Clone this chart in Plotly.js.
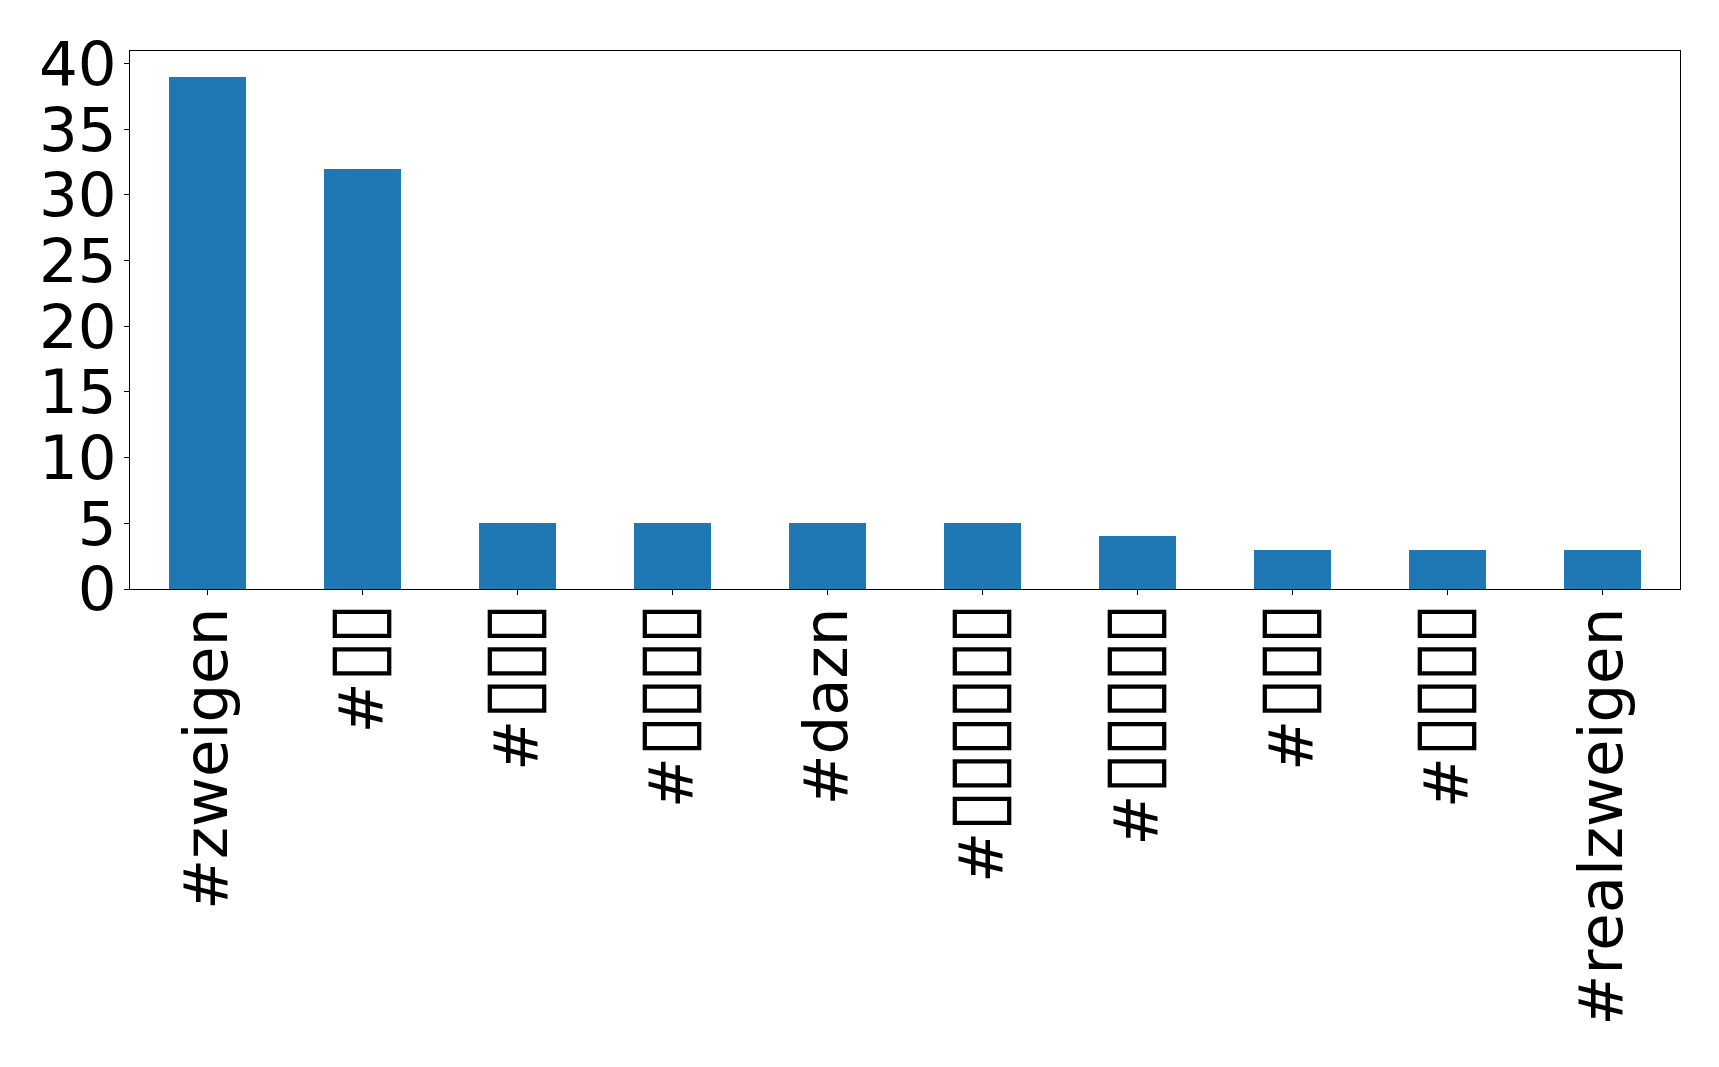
<!DOCTYPE html>
<html>
<head>
<meta charset="utf-8">
<script src="https://cdn.plot.ly/plotly-3.0.1.min.js"></script>
<style>
  html, body { margin: 0; padding: 0; background: #ffffff; }
  #chart { width: 1719px; height: 1067px; }
</style>
</head>
<body>
<div id="chart"></div>
<script>
// Hashtag counts; Japanese tags render as missing-glyph boxes in the source font
const hashtags = [
  "#zweigen",
  "#\u25AF\u25AF",
  "#\u25AF\u25AF\u25AF",
  "#\u25AF\u25AF\u25AF\u25AF",
  "#dazn",
  "#\u25AF\u25AF\u25AF\u25AF\u25AF\u25AF",
  "#\u25AF\u25AF\u25AF\u25AF\u25AF",
  "#\u25AF\u25AF\u25AF",
  "#\u25AF\u25AF\u25AF\u25AF",
  "#realzweigen"
];
const counts = [39, 32, 5, 5, 5, 5, 4, 3, 3, 3];
const yTicks = [0, 5, 10, 15, 20, 25, 30, 35, 40];

const positions = hashtags.map((_, i) => i);

// Enlarge the box glyphs so they read like the font's missing-glyph boxes
function styleLabel(s) {
  return s.replace(/(\u25AF+)/g,
    '<span style="font-size:77px;letter-spacing:-5px">$1</span>');
}

const trace = {
  type: "bar",
  x: positions,
  y: counts,
  width: 0.5,
  marker: { color: "#1f77b4", line: { width: 0 } },
  hoverinfo: "x+y"
};

const fontFamily = "DejaVu Sans, sans-serif";

const layout = {
  width: 1719,
  height: 1067,
  paper_bgcolor: "#ffffff",
  plot_bgcolor: "#ffffff",
  margin: { l: 130, r: 39, t: 51, b: 478, pad: 0 },
  showlegend: false,
  bargap: 0,
  xaxis: {
    range: [-0.5, 9.5],
    tickmode: "array",
    tickvals: positions,
    ticktext: hashtags.map(styleLabel),
    tickangle: -90,
    ticks: "outside",
    ticklen: 5,
    tickwidth: 1,
    tickcolor: "#000000",
    ticklabelstandoff: -12,
    showline: true,
    linecolor: "#000000",
    linewidth: 1.3,
    mirror: true,
    showgrid: false,
    zeroline: false,
    tickfont: { family: fontFamily, size: 61, color: "#000000" }
  },
  yaxis: {
    range: [0, 40.95],
    tickmode: "array",
    tickvals: yTicks,
    ticktext: yTicks.map(String),
    ticks: "outside",
    ticklen: 5,
    tickwidth: 1,
    tickcolor: "#000000",
    ticklabelstandoff: -5,
    showline: true,
    linecolor: "#000000",
    linewidth: 1.3,
    mirror: true,
    showgrid: false,
    zeroline: false,
    tickfont: { family: fontFamily, size: 61, color: "#000000" }
  }
};

Plotly.newPlot("chart", [trace], layout, { displayModeBar: false, staticPlot: true });
</script>
</body>
</html>
